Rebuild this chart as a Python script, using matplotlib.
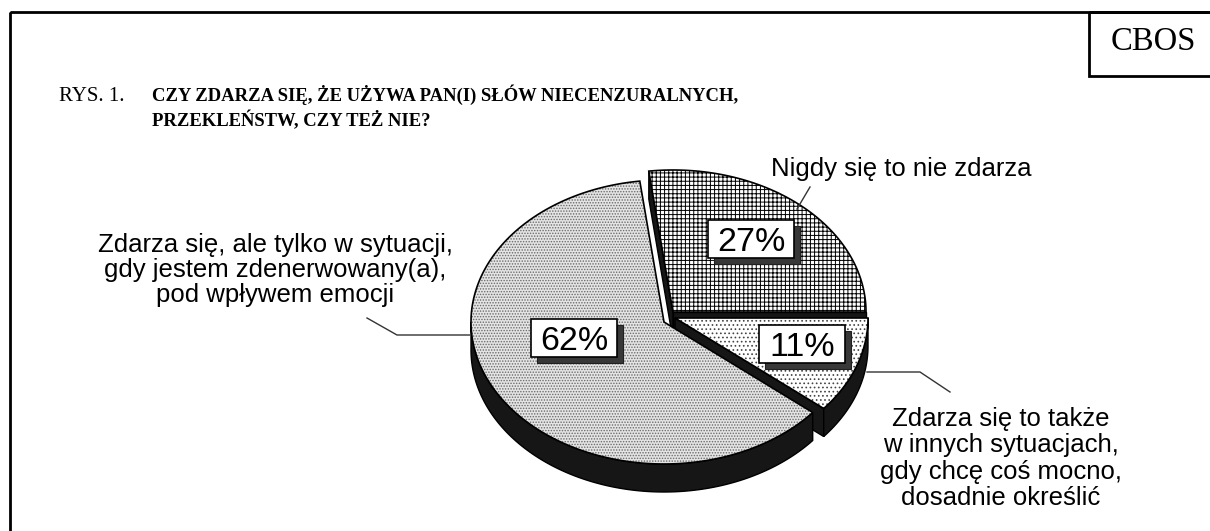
import numpy as np
import matplotlib
matplotlib.use("Agg")
import matplotlib.pyplot as plt
from matplotlib.patches import Polygon, Rectangle

# ---------------- data ----------------
categories = [
    "Nigdy się to nie zdarza",
    "Zdarza się, ale tylko w sytuacji,\ngdy jestem zdenerwowany(a),\npod wpływem emocji",
    "Zdarza się to także\nw innych sytuacjach,\ngdy chcę coś mocno,\ndosadnie określić",
]
values = [27, 62, 11]          # counter-clockwise from 3 o'clock
title_prefix = "RYS. 1."
title_text = "CZY ZDARZA SIĘ, ŻE UŻYWA PAN(I) SŁÓW NIECENZURALNYCH,\nPRZEKLEŃSTW, CZY TEŻ NIE?"
source = "CBOS"

# ---------------- styles / layout ----------------
plt.rcParams["hatch.linewidth"] = 0.7
W, H = 1210, 531
fig = plt.figure(figsize=(W / 100, H / 100), dpi=100)
ax = fig.add_axes([0, 0, 1, 1])
ax.set_xlim(0, W)
ax.set_ylim(H, 0)
ax.axis("off")

CX, CY, A, B, DEPTH = 664, 322, 193, 142, 28
START = 0.0
offsets = [(9, -10), (0, 0), (11, -4)]
face_styles = [
    dict(facecolor="white", hatch="++++", edgecolor="black"),
    dict(facecolor="#e4e4e4", hatch="......", edgecolor="#6a6a6a"),
    dict(facecolor="white", hatch="....", edgecolor="#444444"),
]
label_pos = [(751, 239), (574, 338), (802, 344)]
BOX_W, BOX_H = 86, 38
SIDE_FC = "#161616"


def rim(cx, cy, t):
    r = np.radians(t)
    return np.column_stack([cx + A * np.cos(r), cy - B * np.sin(r)])


total = float(sum(values))
angles = START + 360.0 * np.concatenate([[0], np.cumsum(values)]) / total

for i, v in enumerate(values):
    t1, t2 = angles[i], angles[i + 1]
    dx, dy = offsets[i]
    cx, cy = CX + dx, CY + dy
    apex = np.array([[cx, cy]])
    # cut faces
    for t, normal in ((t1, t1 - 90), (t2, t2 + 90)):
        if np.sin(np.radians(normal)) < -1e-6:
            p = rim(cx, cy, np.array([t]))[0]
            quad = np.array([[cx, cy], p, p + [0, DEPTH], [cx, cy + DEPTH]])
            ax.add_patch(Polygon(quad, closed=True, fc=SIDE_FC, ec="black",
                                 lw=1.0, zorder=2))
    # outer wall (front half)
    lo, hi = max(t1, 180.0), min(t2, 360.0)
    if hi > lo:
        ts = np.linspace(lo, hi, 120)
        top = rim(cx, cy, ts)
        bot = top[::-1] + [0, DEPTH]
        ax.add_patch(Polygon(np.vstack([top, bot]), closed=True, fc=SIDE_FC,
                             ec="black", lw=1.0, zorder=3))
    # top face
    ts = np.linspace(t1, t2, 200)
    pts = np.vstack([apex, rim(cx, cy, ts)])
    st = face_styles[i]
    ax.add_patch(Polygon(pts, closed=True, fc=st["facecolor"], hatch=st["hatch"],
                         ec=st["edgecolor"], lw=0, zorder=4))
    ax.add_patch(Polygon(pts, closed=True, fill=False, ec="black", lw=1.2,
                         zorder=5))
    # percentage label with shadow box
    lx, ly = label_pos[i]
    ax.add_patch(Rectangle((lx - BOX_W / 2 + 6, ly - BOX_H / 2 + 6), BOX_W, BOX_H,
                           fc="#383838", ec="#202020", lw=0.8, zorder=6))
    ax.add_patch(Rectangle((lx - BOX_W / 2, ly - BOX_H / 2), BOX_W, BOX_H,
                           fc="white", ec="black", lw=1.2, zorder=7))
    ax.text(lx, ly + 12, f"{v}%", family="Liberation Sans", fontsize=24.5,
            ha="center", va="baseline", zorder=8)

# ---------------- category labels & leader lines ----------------
lab_kw = dict(family="Liberation Sans", fontsize=18.5, ha="center", zorder=8)
ax.text(901, 176, categories[0], va="baseline", **lab_kw)
ax.text(275, 302, categories[1], va="baseline", linespacing=1.06, **lab_kw)
ax.text(1001, 505, categories[2], va="baseline", linespacing=1.12, **lab_kw)

lead_kw = dict(color="#333333", lw=1.0, zorder=8)
ax.plot([810, 797], [187, 209], **lead_kw)
ax.plot([367, 397, 470], [318, 335, 335], **lead_kw)
ax.plot([867, 920, 950], [372, 372, 392], **lead_kw)

# ---------------- title, frame, source box ----------------
ax.text(59, 101, title_prefix, family="Liberation Serif", fontsize=15,
        va="baseline", ha="left")
ax.text(152, 126, title_text, family="Liberation Serif", fontsize=13.4,
        fontweight="bold", va="baseline", ha="left", linespacing=1.35)

ax.add_patch(Rectangle((9.5, 12), W + 20, H + 20, fill=False, ec="black",
                       lw=2.0, zorder=1))
ax.add_patch(Rectangle((1089, 12), W, 64, fill=False, ec="black",
                       lw=2.0, zorder=1))
ax.text(1153, 42, source, family="Liberation Serif", fontsize=23.5,
        ha="center", va="center")

fig.savefig("out.png", dpi=100)
